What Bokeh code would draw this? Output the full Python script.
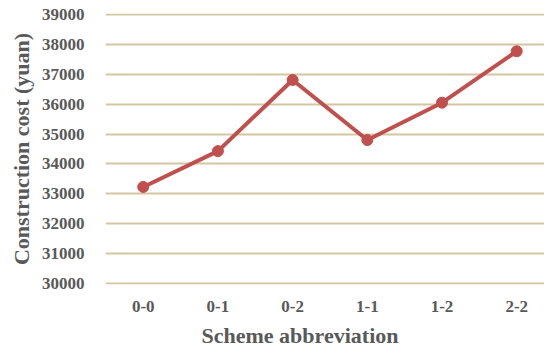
from bokeh.plotting import figure
from bokeh.models import Range1d, FixedTicker, Title
from bokeh.embed import file_html
from bokeh.resources import INLINE

# Construction cost per scheme
schemes = ["0-0", "0-1", "0-2", "1-1", "1-2", "2-2"]
costs = [33230, 34430, 36810, 34800, 36050, 37770]
y_ticks = [30000, 31000, 32000, 33000, 34000, 35000, 36000, 37000, 38000, 39000]

xs = list(range(len(schemes)))

TEXT = "#595959"
FONT = "Liberation Serif"

# one pixel of headroom above and below so the outer gridlines are not clipped
p = figure(width=544, height=354, output_backend="svg", toolbar_location=None,
           x_range=Range1d(-0.505, 5.372), y_range=Range1d(29967, 39033),
           min_border_left=105, min_border_right=0, min_border_top=13, min_border_bottom=70)
p.outline_line_color = None
p.background_fill_color = "white"
p.border_fill_color = "white"

# horizontal gridlines only
p.xgrid.grid_line_color = None
p.ygrid.grid_line_color = "#d4c6a3"
p.ygrid.grid_line_width = 2
p.ygrid.ticker = FixedTicker(ticks=y_ticks)

p.yaxis.ticker = FixedTicker(ticks=y_ticks)
p.xaxis.ticker = FixedTicker(ticks=xs)
p.xaxis.major_label_overrides = {i: s for i, s in enumerate(schemes)}

for ax in (p.xaxis[0], p.yaxis[0]):
    ax.axis_line_color = None
    ax.major_tick_line_color = None
    ax.minor_tick_line_color = None
    ax.major_label_text_font = FONT
    ax.major_label_text_font_style = "bold"
    ax.major_label_text_font_size = "17px"
    ax.major_label_text_color = TEXT

p.yaxis.major_label_standoff = 15
p.xaxis.major_label_standoff = 10

p.yaxis.axis_label = "Construction cost (yuan)"
p.yaxis.axis_label_text_font = FONT
p.yaxis.axis_label_text_font_style = "bold"
p.yaxis.axis_label_text_font_size = "22px"
p.yaxis.axis_label_text_color = TEXT
p.yaxis.axis_label_standoff = 5

# x-axis title, left-aligned with an offset from the frame edge
p.add_layout(Title(text="Scheme abbreviation", align="left", offset=96,
                   text_font=FONT, text_font_style="bold", text_font_size="22px",
                   text_color=TEXT, standoff=13), "below")

p.line(xs, costs, line_color="#c0504d", line_width=4)
p.scatter(xs, costs, size=11, fill_color="#c0504d", line_color="#c0504d")

open("out.html", "w").write(file_html(p, INLINE))
